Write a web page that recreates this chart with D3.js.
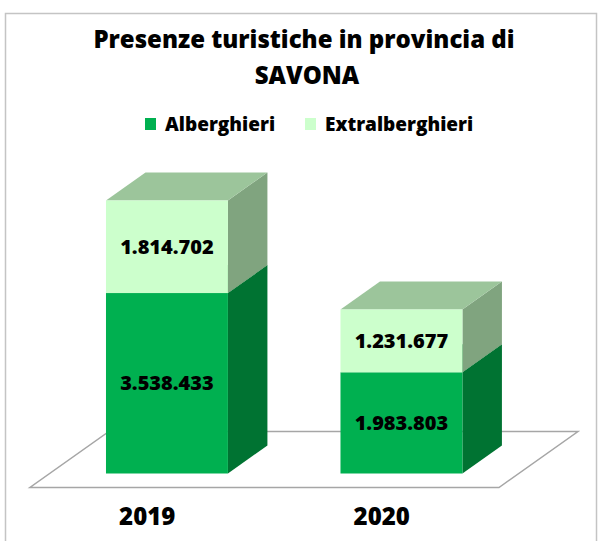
<!DOCTYPE html>
<html>
<head>
<meta charset="utf-8">
<script src="https://cdn.jsdelivr.net/npm/d3@7"></script>
<style>
  html, body { margin: 0; padding: 0; background: #ffffff; }
  svg { display: block; }
</style>
</head>
<body>
<svg id="chart" width="605" height="541"></svg>
<script>
// Presenze turistiche, provincia di Savona
const categories = ["2019", "2020"];
const seriesNames = ["Alberghieri", "Extralberghieri"];
const alberghieri = [3538433, 1983803];
const extralberghieri = [1814702, 1231677];

const colors = {
  Alberghieri:     { front: "#00B050", side: "#007332", top: "#2E9A55" },
  Extralberghieri: { front: "#CCFFCC", side: "#80A47F", top: "#9CC59B" }
};

const svg = d3.select("#chart");
const fontFamily = "'Open Sans', Lato, sans-serif";
const weight = 800;

// outer frame
svg.append("rect")
  .attr("x", 5.5).attr("y", 13.5)
  .attr("width", 591).attr("height", 560)
  .attr("fill", "#ffffff")
  .attr("stroke", "#C4C4C4").attr("stroke-width", 1.5);

// title
const title = svg.append("text")
  .attr("text-anchor", "middle")
  .attr("font-family", fontFamily)
  .attr("font-weight", weight)
  .attr("font-size", 24)
  .attr("fill", "#000");
title.append("tspan").attr("x", 304).attr("y", 48).text("Presenze turistiche in provincia di");
title.append("tspan").attr("x", 307).attr("y", 84).text("SAVONA");

// legend
const legendItems = [
  { name: seriesNames[0], x: 145 },
  { name: seriesNames[1], x: 305 }
];
const lg = svg.append("g");
legendItems.forEach(d => {
  lg.append("rect")
    .attr("x", d.x).attr("y", 118)
    .attr("width", 11).attr("height", 12)
    .attr("fill", colors[d.name].front);
  lg.append("text")
    .attr("x", d.x + 20).attr("y", 131)
    .attr("font-family", fontFamily)
    .attr("font-weight", weight)
    .attr("font-size", 19)
    .attr("fill", "#000")
    .text(d.name);
});

// stacked data
const rows = categories.map((c, i) => ({
  category: c,
  Alberghieri: alberghieri[i],
  Extralberghieri: extralberghieri[i]
}));
const stack = d3.stack().keys(seriesNames)(rows);

// scales (front face plane)
const x = d3.scaleBand()
  .domain(categories)
  .range([49.7, 518.7])
  .paddingInner(0.48)
  .paddingOuter(0.24);
const y = d3.scaleLinear()
  .domain([0, 6000000])
  .range([473.5, 167.5]);

// depth of the floor; bars occupy its middle half
const depth = { dx: 79, dy: -56 };
const fq = { dx: depth.dx / 4, dy: depth.dy / 4 };     // floor front -> bar front
const bd = { dx: depth.dx / 2, dy: depth.dy / 2 };     // bar front -> bar back

// floor
const y0 = y(0);
const [r0, r1] = x.range();
const floorPts = [
  [r0 - fq.dx, y0 - fq.dy],
  [r1 - fq.dx, y0 - fq.dy],
  [r1 - fq.dx + depth.dx, y0 - fq.dy + depth.dy],
  [r0 - fq.dx + depth.dx, y0 - fq.dy + depth.dy]
];
svg.append("polygon")
  .attr("points", floorPts.map(p => p.join(",")).join(" "))
  .attr("fill", "#ffffff")
  .attr("stroke", "#A6A6A6")
  .attr("stroke-width", 1.5);

// bars
const bars = svg.append("g");
stack.forEach(layer => {
  const key = layer.key;
  layer.forEach(seg => {
    const cat = seg.data.category;
    const xl = x(cat), w = x.bandwidth();
    const yt = y(seg[1]), yb = y(seg[0]);
    const g = bars.append("g");
    // right side
    g.append("polygon")
      .attr("points", [
        [xl + w, yt], [xl + w + bd.dx, yt + bd.dy],
        [xl + w + bd.dx, yb + bd.dy], [xl + w, yb]
      ].map(p => p.join(",")).join(" "))
      .attr("fill", colors[key].side);
    // top
    g.append("polygon")
      .attr("points", [
        [xl, yt], [xl + w, yt],
        [xl + w + bd.dx, yt + bd.dy], [xl + bd.dx, yt + bd.dy]
      ].map(p => p.join(",")).join(" "))
      .attr("fill", colors[key].top);
    // front
    g.append("rect")
      .attr("x", xl).attr("y", yt)
      .attr("width", w).attr("height", yb - yt)
      .attr("fill", colors[key].front);
  });
});

// value labels
const fmt = v => d3.format(",")(v).replace(/,/g, ".");
stack.forEach(layer => {
  layer.forEach(seg => {
    const cat = seg.data.category;
    bars.append("text")
      .attr("x", x(cat) + x.bandwidth() / 2)
      .attr("y", (y(seg[0]) + y(seg[1])) / 2)
      .attr("dy", "0.36em")
      .attr("text-anchor", "middle")
      .attr("font-family", fontFamily)
      .attr("font-weight", weight)
      .attr("font-size", 20)
      .attr("fill", "#000")
      .text(fmt(seg.data[layer.key]));
  });
});

// category labels along the floor front edge
svg.append("g").selectAll("text")
  .data(categories)
  .join("text")
  .attr("x", d => x(d) + x.bandwidth() / 2 - fq.dx)
  .attr("y", 525)
  .attr("text-anchor", "middle")
  .attr("font-family", fontFamily)
  .attr("font-weight", weight)
  .attr("font-size", 24)
  .attr("fill", "#000")
  .text(d => d);
</script>
</body>
</html>
